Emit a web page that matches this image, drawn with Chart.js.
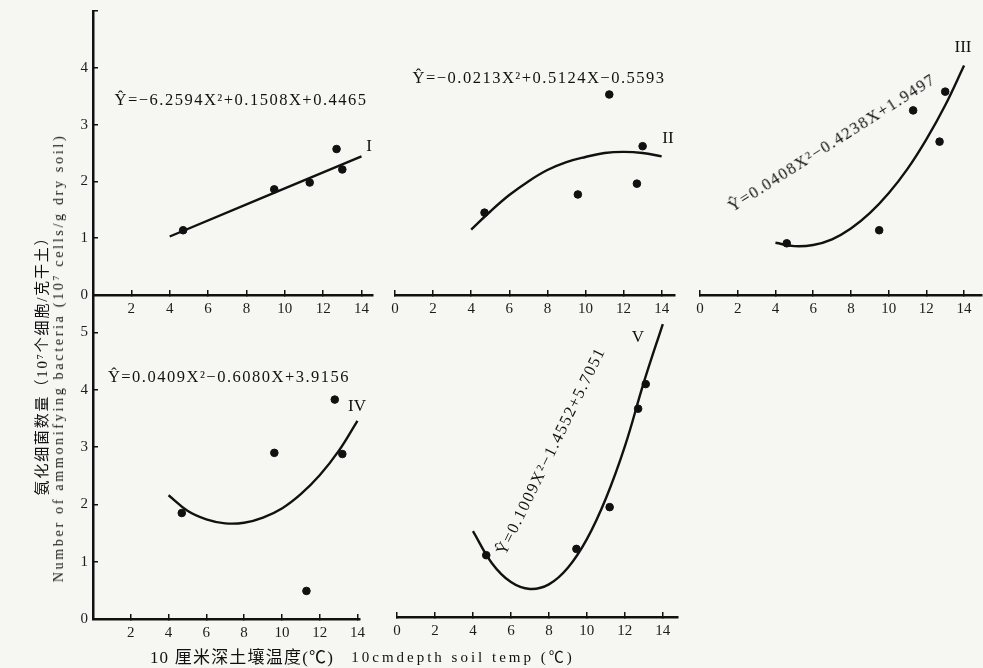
<!DOCTYPE html>
<html lang="zh">
<head>
<meta charset="UTF-8" />
<title>Ammonifying bacteria vs soil temperature</title>
<script src="https://cdn.jsdelivr.net/npm/chart.js"></script>
<style>
  body { margin: 0; background: #f6f6f3; }
  #wrap { position: relative; width: 983px; height: 668px; overflow: hidden; font-family: "Liberation Serif", "Noto Sans CJK SC", serif; color: #111; }
  canvas { position: absolute; }
  .t { position: absolute; white-space: nowrap; transform: translate(-50%, -50%); }
  .eq { font-size: 16.5px; letter-spacing: 1.5px; }
  .lab { font-size: 17px; }
  .gray { filter: grayscale(1); }
</style>
</head>
<body>
<div id="wrap">
  <canvas id="p1"></canvas>
  <canvas id="p2"></canvas>
  <canvas id="p3"></canvas>
  <canvas id="p4"></canvas>
  <canvas id="p5"></canvas>

  <div class="t eq" style="left:241px;top:100px">Ŷ=−6.2594X²+0.1508X+0.4465</div>
  <div class="t eq" style="left:539px;top:78px">Ŷ=−0.0213X²+0.5124X−0.5593</div>
  <div class="t eq" style="left:832px;top:143px;transform:translate(-50%,-50%) rotate(-32.5deg)">Ŷ=0.0408X²−0.4238X+1.9497</div>
  <div class="t eq" style="left:229px;top:377px">Ŷ=0.0409X²−0.6080X+3.9156</div>
  <div class="t eq" style="left:551px;top:451px;transform:translate(-50%,-50%) rotate(-64deg)">Ŷ=0.1009X²−1.4552+5.7051</div>

  <div class="t lab" style="left:369px;top:146px">I</div>
  <div class="t lab" style="left:668px;top:138px">II</div>
  <div class="t lab" style="left:963px;top:47px">III</div>
  <div class="t lab" style="left:357px;top:406px">IV</div>
  <div class="t lab" style="left:638px;top:337px">V</div>

  <div class="t gray" style="left:40px;top:362px;font-size:15px;letter-spacing:1.8px;transform:translate(-50%,-50%) rotate(-90deg)">氨化细菌数量（10⁷个细胞/克干土）</div>
  <div class="t" style="left:59px;top:358px;font-size:14px;letter-spacing:2.7px;transform:translate(-50%,-50%) rotate(-90deg)">Number of ammonifying bacteria (10⁷ cells/g dry soil)</div>
  <div class="t gray" style="left:242px;top:655px;font-size:17px;letter-spacing:1.2px">10 厘米深土壤温度(℃)</div>
  <div class="t" style="left:463px;top:655px;font-size:15px;letter-spacing:3px">10cmdepth soil temp (℃)</div>
</div>

<script>
  // x ticks (soil temp, °C) and y ticks (10^7 cells / g dry soil)
  const ticksX = [0, 2, 4, 6, 8, 10, 12, 14];
  const ticksY = [0, 1, 2, 3, 4, 5];

  const ptsX1 = [4.7, 9.45, 11.3, 12.7, 13.0];
  const ptsY1 = [1.14, 1.86, 1.98, 2.57, 2.21];
  const ptsX2 = [4.7, 9.6, 11.25, 12.7, 13.0];
  const ptsY2 = [1.45, 1.77, 3.53, 1.96, 2.62];
  const ptsX3 = [4.6, 9.5, 11.3, 12.7, 13.0];
  const ptsY3 = [0.91, 1.14, 3.25, 2.70, 3.58];
  const ptsX4 = [4.7, 9.6, 11.3, 12.8, 13.2];
  const ptsY4 = [1.85, 2.90, 0.49, 3.83, 2.88];
  const ptsX5 = [4.7, 9.45, 11.2, 12.7, 13.1];
  const ptsY5 = [1.08, 1.19, 1.92, 3.64, 4.07];

  // fitted curves
  const fitX1 = [4, 14];
  const fitY1 = [1.03, 2.44];
  const fitX = [4, 5, 6, 7, 8, 9, 10, 11, 12, 13, 14];
  const fitY2 = [1.15, 1.47, 1.76, 2.00, 2.20, 2.34, 2.43, 2.50, 2.52, 2.50, 2.44];
  const fitY3 = [0.92, 0.86, 0.88, 0.98, 1.17, 1.44, 1.79, 2.22, 2.74, 3.34, 4.04];
  const fitY4 = [2.16, 1.89, 1.74, 1.67, 1.68, 1.77, 1.93, 2.18, 2.51, 2.93, 3.46];
  const fitY5 = [1.50, 0.94, 0.61, 0.49, 0.57, 0.86, 1.36, 2.07, 2.98, 4.10, 5.12];

  const ink = "#111";
  const PADL = 40, PADB = 30, PADT = 12, PADR = 8;

  function xy(xs, ys) {
    return xs.map((x, i) => ({ x: x, y: ys[i] }));
  }

  function config(xMax, yMax, pts, fit, opts) {
    return {
      type: "scatter",
      data: {
        datasets: [
          { data: fit, showLine: true, borderColor: ink, borderWidth: 2.4, pointRadius: 0, tension: 0.4, clip: false },
          { data: pts, backgroundColor: ink, borderColor: ink, pointRadius: 3.8, clip: false },
        ],
      },
      options: {
        responsive: false,
        maintainAspectRatio: false,
        animation: false,
        layout: { padding: { left: opts.showY ? 0 : PADL, right: PADR, top: PADT, bottom: 0 } },
        plugins: { legend: { display: false }, tooltip: { enabled: false } },
        scales: {
          x: {
            type: "linear",
            min: 0,
            max: xMax,
            afterFit: (s) => { s.height = PADB; },
            afterBuildTicks: (s) => {
              s.ticks = ticksX.filter((v) => !(opts.noX0 && v === 0)).map((v) => ({ value: v }));
            },
            border: { color: ink, width: 2.5 },
            grid: { drawOnChartArea: false, tickLength: -5, color: ink, lineWidth: 1.5 },
            ticks: { padding: 10, color: "#1c1c1c", font: { family: "Liberation Serif", size: 15 }, maxRotation: 0 },
          },
          y: {
            type: "linear",
            display: !!opts.showY,
            min: 0,
            max: yMax,
            afterFit: (s) => { s.width = PADL; },
            afterBuildTicks: (s) => { s.ticks = ticksY.map((v) => ({ value: v })); },
            border: { color: ink, width: 2.5 },
            grid: { drawOnChartArea: false, tickLength: -5, color: ink, lineWidth: 1.5 },
            ticks: {
              padding: 10,
              color: "#1c1c1c",
              font: { family: "Liberation Serif", size: 15 },
              callback: (v) => (opts.hideY5 && v === 5 ? "" : v),
            },
          },
        },
      },
    };
  }

  // box: pixel position of the plot area (left = x 0, bottom = y 0)
  function panel(id, box, xMax, yMax, pts, fit, opts) {
    const cv = document.getElementById(id);
    const w = box.right - box.left, h = box.bottom - box.top;
    cv.width = Math.round(w + PADL + PADR);
    cv.height = Math.round(h + PADT + PADB);
    let chart = new Chart(cv, config(xMax, yMax, pts, fit, opts));
    let a = chart.chartArea;
    const dw = Math.round(w - (a.right - a.left)), dh = Math.round(h - (a.bottom - a.top));
    if (dw || dh) {
      chart.destroy();
      cv.width = cv.width + dw;
      cv.height = cv.height + dh;
      chart = new Chart(cv, config(xMax, yMax, pts, fit, opts));
      a = chart.chartArea;
    }
    cv.style.left = box.left - a.left + "px";
    cv.style.top = box.top - a.top + "px";
  }

  const topY0 = 294.5, botY0 = 618, unitTop = 56.8, unitBot = 57.2;

  panel("p1", { left: 93, right: 93 + 14.6 * 19.15, top: topY0 - 5 * unitTop, bottom: topY0 }, 14.6, 5,
    xy(ptsX1, ptsY1), xy(fitX1, fitY1), { showY: true, noX0: true, hideY5: true });
  panel("p2", { left: 395, right: 395 + 14.7 * 19.07, top: topY0 - 5 * unitTop, bottom: topY0 }, 14.7, 5,
    xy(ptsX2, ptsY2), xy(fitX, fitY2), {});
  panel("p3", { left: 700, right: 700 + 14.95 * 18.86, top: topY0 - 5 * unitTop, bottom: topY0 }, 14.95, 5,
    xy(ptsX3, ptsY3), xy(fitX, fitY3), {});
  panel("p4", { left: 93, right: 93 + 14.1 * 18.9, top: topY0, bottom: botY0 }, 14.1, (botY0 - topY0) / unitBot,
    xy(ptsX4, ptsY4), xy(fitX, fitY4), { showY: true, noX0: true });
  panel("p5", { left: 397, right: 397 + 14.8 * 19.0, top: 617 - 5.4 * unitBot, bottom: 617 }, 14.8, 5.4,
    xy(ptsX5, ptsY5), xy(fitX, fitY5), {});
</script>
</body>
</html>
